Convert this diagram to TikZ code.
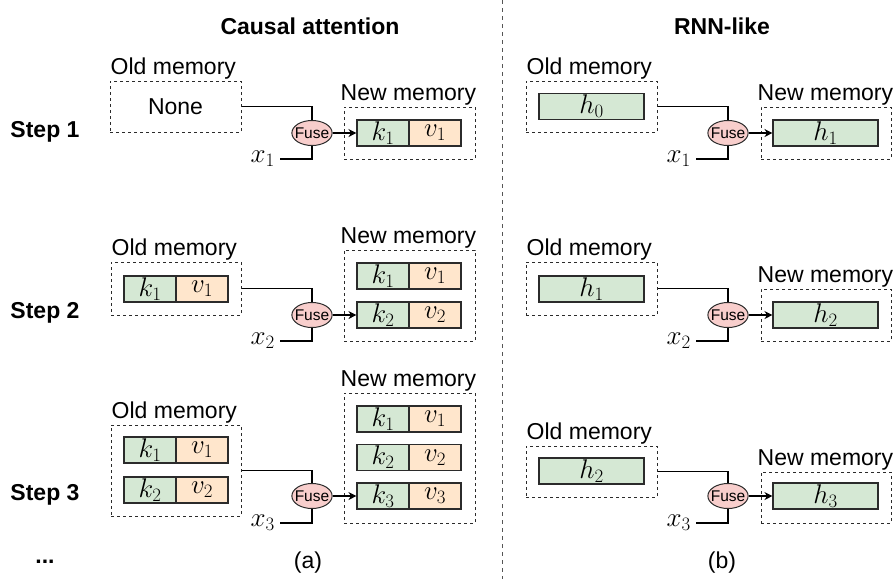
\RequirePackage{fix-cm}
\documentclass[tikz,border=0pt]{standalone}
\usepackage{fontspec}
\setmainfont{Liberation Sans}
\usepackage{tikz}
\usetikzlibrary{arrows.meta, positioning, shapes.geometric}
\usepackage{xcolor}

\definecolor{keygreen}{HTML}{D5E8D4}
\definecolor{valorange}{HTML}{FFE6CC}
\definecolor{fusered}{HTML}{F8CECC}
\definecolor{edgecol}{HTML}{2B2B2B}

\begin{document}
\begin{tikzpicture}[x=1pt, y=-1pt,
        lbl/.style={font=\fontsize{23}{27}\selectfont, inner sep=0pt},
        ttl/.style={font=\fontsize{23}{27}\selectfont\bfseries, inner sep=0pt},
        membox/.style={draw=edgecol, line width=1pt, dash pattern=on 3pt off 3pt, inner sep=0pt,
            font=\fontsize{23}{27}\selectfont},
        kcell/.style={draw=edgecol, fill=keygreen, line width=1.1pt, minimum width=52pt,
            minimum height=26pt, inner sep=0pt, font=\fontsize{27}{30}\selectfont},
        vcell/.style={kcell, fill=valorange},
        hcell/.style={kcell, minimum width=105pt},
        fuse/.style={ellipse, draw=edgecol, fill=fusered, line width=1pt, minimum width=40pt,
            minimum height=25pt, inner xsep=-3pt, inner ysep=0pt, font=\fontsize{15.5}{16}\selectfont},
        xin/.style={anchor=east, inner xsep=5pt, inner ysep=1pt, font=\fontsize{27}{30}\selectfont},
        wire/.style={draw=black, line width=1.1pt},
        feed/.style={wire, -{Stealth[length=8pt, width=8pt]}}]
    \useasboundingbox (0,0) rectangle (896,579);

    \node[ttl] (ttlA) at (310,26) {Causal attention};
    \node[ttl] (ttlB) at (722,26) {RNN-like};
    \draw[edgecol!80, line width=1pt, dash pattern=on 4pt off 4pt] (502,0) -- (502,579);

    \node[ttl] (step1) at (45,132) {Step 1};
    \node[ttl] (step2) at (45,313) {Step 2};
    \node[ttl] (step3) at (45,495) {Step 3};
    \node[ttl] (dots) at (45,562) {...};
    \node[lbl] (capA) at (308,563) {(a)};
    \node[lbl] (capB) at (722,563) {(b)};

    % causal attention, step 1
    \node[membox, minimum width=131pt, minimum height=51pt] (oldA1) at (175.5,106.5) {None};
    \node[lbl, anchor=base west] (oldA1lbl) at ([xshift=1pt, yshift=6pt]oldA1.north west) {Old memory};
    \node[membox, minimum width=131pt, minimum height=52pt] (newA1) at (409.5,133) {};
    \node[lbl, anchor=base west] (newA1lbl) at ([xshift=-3pt, yshift=6pt]newA1.north west) {New memory};
    \node[kcell] (kA1) at (383,133) {$k_1$};
    \node[vcell] (vA1) at (435,133) {$v_1$};
    \node[fuse] (fuseA1) at (312,133) {Fuse};
    \node[xin] (xA1) at (280,159) {$x_1$};
    \draw[wire] (oldA1.east) -| (fuseA1.north);
    \draw[wire] (xA1.east) -| (fuseA1.south);
    \draw[feed] (fuseA1) -- (kA1);

    % causal attention, step 2
    \node[membox, minimum width=130pt, minimum height=53pt] (oldA2) at (176,288.5) {};
    \node[lbl, anchor=base west] (oldA2lbl) at ([xshift=1pt, yshift=6pt]oldA2.north west) {Old memory};
    \node[kcell] (kA2a) at (150,289) {$k_1$};
    \node[vcell] (vA2a) at (202,289) {$v_1$};
    \node[membox, minimum width=131pt, minimum height=91pt] (newA2) at (409.5,295.5) {};
    \node[lbl, anchor=base west] (newA2lbl) at ([xshift=-3pt, yshift=6pt]newA2.north west) {New memory};
    \node[kcell] (kA2b) at (383,276) {$k_1$};
    \node[vcell] (vA2b) at (435,276) {$v_1$};
    \node[kcell] (kA2c) at (383,315) {$k_2$};
    \node[vcell] (vA2c) at (435,315) {$v_2$};
    \node[fuse] (fuseA2) at (312,315) {Fuse};
    \node[xin] (xA2) at (280,341) {$x_2$};
    \draw[wire] (oldA2.east) -| (fuseA2.north);
    \draw[wire] (xA2.east) -| (fuseA2.south);
    \draw[feed] (fuseA2) -- (kA2c);

    % causal attention, step 3
    \node[membox, minimum width=130pt, minimum height=91pt] (oldA3) at (176,470.5) {};
    \node[lbl, anchor=base west] (oldA3lbl) at ([xshift=1pt, yshift=6pt]oldA3.north west) {Old memory};
    \node[kcell] (kA3a) at (150,450) {$k_1$};
    \node[vcell] (vA3a) at (202,450) {$v_1$};
    \node[kcell] (kA3b) at (150,490) {$k_2$};
    \node[vcell] (vA3b) at (202,490) {$v_2$};
    \node[membox, minimum width=131pt, minimum height=130pt] (newA3) at (409.5,458) {};
    \node[lbl, anchor=base west] (newA3lbl) at ([xshift=-3pt, yshift=6pt]newA3.north west) {New memory};
    \node[kcell] (kA3c) at (383,419) {$k_1$};
    \node[vcell] (vA3c) at (435,419) {$v_1$};
    \node[kcell] (kA3d) at (383,457.5) {$k_2$};
    \node[vcell] (vA3d) at (435,457.5) {$v_2$};
    \node[kcell] (kA3e) at (383,496) {$k_3$};
    \node[vcell] (vA3e) at (435,496) {$v_3$};
    \node[fuse] (fuseA3) at (312,496) {Fuse};
    \node[xin] (xA3) at (280,523) {$x_3$};
    \draw[wire] (oldA3.east) -| (fuseA3.north);
    \draw[wire] (xA3.east) -| (fuseA3.south);
    \draw[feed] (fuseA3) -- (kA3e);

    % rnn-like, step 1
    \node[membox, minimum width=131pt, minimum height=51pt] (oldB1) at (591.5,106.5) {};
    \node[lbl, anchor=base west] (oldB1lbl) at ([xshift=1pt, yshift=6pt]oldB1.north west) {Old memory};
    \node[hcell] (hB1a) at (591.5,106.5) {$h_0$};
    \node[membox, minimum width=130pt, minimum height=52pt] (newB1) at (826,133) {};
    \node[lbl, anchor=base west] (newB1lbl) at ([xshift=-3pt, yshift=6pt]newB1.north west) {New memory};
    \node[hcell] (hB1b) at (825.5,133) {$h_1$};
    \node[fuse] (fuseB1) at (728,133) {Fuse};
    \node[xin] (xB1) at (696,159) {$x_1$};
    \draw[wire] (oldB1.east) -| (fuseB1.north);
    \draw[wire] (xB1.east) -| (fuseB1.south);
    \draw[feed] (fuseB1) -- (hB1b);

    % rnn-like, step 2
    \node[membox, minimum width=131pt, minimum height=53pt] (oldB2) at (591.5,288.5) {};
    \node[lbl, anchor=base west] (oldB2lbl) at ([xshift=1pt, yshift=6pt]oldB2.north west) {Old memory};
    \node[hcell] (hB2a) at (591.5,289) {$h_1$};
    \node[membox, minimum width=130pt, minimum height=52pt] (newB2) at (826,315) {};
    \node[lbl, anchor=base west] (newB2lbl) at ([xshift=-3pt, yshift=6pt]newB2.north west) {New memory};
    \node[hcell] (hB2b) at (825.5,315) {$h_2$};
    \node[fuse] (fuseB2) at (728,315) {Fuse};
    \node[xin] (xB2) at (696,341) {$x_2$};
    \draw[wire] (oldB2.east) -| (fuseB2.north);
    \draw[wire] (xB2.east) -| (fuseB2.south);
    \draw[feed] (fuseB2) -- (hB2b);

    % rnn-like, step 3
    \node[membox, minimum width=131pt, minimum height=51pt] (oldB3) at (591.5,471.5) {};
    \node[lbl, anchor=base west] (oldB3lbl) at ([xshift=1pt, yshift=6pt]oldB3.north west) {Old memory};
    \node[hcell] (hB3a) at (591.5,471) {$h_2$};
    \node[membox, minimum width=130pt, minimum height=51pt] (newB3) at (826,497.5) {};
    \node[lbl, anchor=base west] (newB3lbl) at ([xshift=-3pt, yshift=6pt]newB3.north west) {New memory};
    \node[hcell] (hB3b) at (825.5,496) {$h_3$};
    \node[fuse] (fuseB3) at (728,496) {Fuse};
    \node[xin] (xB3) at (696,523) {$x_3$};
    \draw[wire] (oldB3.east) -| (fuseB3.north);
    \draw[wire] (xB3.east) -| (fuseB3.south);
    \draw[feed] (fuseB3) -- (hB3b);
\end{tikzpicture}
\end{document}
